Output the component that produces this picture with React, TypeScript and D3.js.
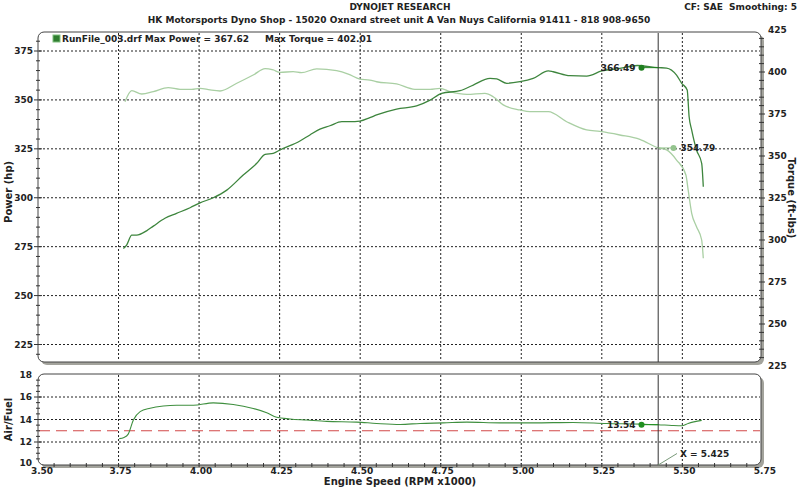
import React, { useRef, useEffect } from 'react';
import * as d3 from 'd3';

// ---- data (rpm x1000) ----
const powerRpm = [3.765, 3.775, 3.791, 3.806, 3.837, 3.858, 3.894, 3.930, 3.972, 4.003, 4.044, 4.086, 4.137, 4.179, 4.205, 4.230, 4.251, 4.313, 4.344, 4.375, 4.406, 4.443, 4.468, 4.499, 4.530, 4.551, 4.613, 4.675, 4.717, 4.753, 4.810, 4.851, 4.903, 4.924, 4.955, 4.996, 5.037, 5.084, 5.099, 5.151, 5.203, 5.250, 5.306, 5.360, 5.425, 5.451, 5.482, 5.498, 5.515, 5.521, 5.529, 5.544, 5.560, 5.565];
const powerHp = [274.1, 275.8, 280.9, 280.9, 283.1, 285.5, 289.5, 292.0, 294.9, 297.4, 300.0, 303.9, 311.6, 317.6, 322.2, 322.7, 324.4, 329.0, 332.1, 335.1, 336.8, 338.9, 338.9, 339.2, 340.9, 342.3, 345.3, 346.9, 349.9, 353.4, 354.7, 357.6, 361.0, 360.7, 358.5, 359.3, 361.0, 364.8, 364.4, 362.4, 362.2, 364.8, 366.1, 367.6, 366.5, 366.3, 362.7, 358.5, 355.1, 341.4, 334.6, 324.4, 317.6, 305.6];

const torqueRpm = [3.770, 3.791, 3.822, 3.858, 3.904, 3.941, 3.977, 4.003, 4.034, 4.065, 4.117, 4.168, 4.205, 4.230, 4.251, 4.292, 4.318, 4.365, 4.427, 4.463, 4.499, 4.530, 4.551, 4.613, 4.670, 4.717, 4.748, 4.779, 4.831, 4.887, 4.913, 4.944, 4.996, 5.027, 5.084, 5.141, 5.203, 5.244, 5.306, 5.368, 5.425, 5.451, 5.482, 5.511, 5.518, 5.529, 5.544, 5.560, 5.565];
const torqueFt = [382.3, 388.9, 386.9, 388.3, 390.7, 389.7, 389.7, 390.3, 389.3, 388.7, 393.3, 398.2, 402.0, 401.2, 399.8, 400.2, 399.6, 401.9, 400.8, 398.8, 395.8, 395.2, 394.2, 392.9, 389.7, 389.7, 390.3, 388.3, 386.7, 387.3, 385.3, 380.4, 377.4, 376.4, 376.4, 370.4, 365.5, 364.6, 362.5, 359.9, 354.8, 353.6, 347.6, 338.7, 329.8, 315.9, 307.9, 300.0, 289.1];

const afrRpm = [3.752, 3.767, 3.780, 3.796, 3.817, 3.848, 3.889, 3.930, 3.982, 4.044, 4.106, 4.168, 4.210, 4.241, 4.282, 4.334, 4.396, 4.489, 4.551, 4.624, 4.686, 4.758, 4.831, 4.934, 5.037, 5.161, 5.265, 5.374, 5.425, 5.467, 5.498, 5.518, 5.560];
const afrValues = [12.3, 12.4, 12.7, 13.95, 14.7, 15.0, 15.2, 15.27, 15.27, 15.48, 15.34, 14.98, 14.6, 14.2, 14.05, 13.95, 13.83, 13.77, 13.65, 13.56, 13.65, 13.7, 13.77, 13.7, 13.7, 13.74, 13.65, 13.59, 13.54, 13.47, 13.44, 13.65, 13.92];

const rpmTicks = [3.5, 3.75, 4.0, 4.25, 4.5, 4.75, 5.0, 5.25, 5.5, 5.75];
const hpTicks = [225, 250, 275, 300, 325, 350, 375];
const torqueTicks = [225, 250, 275, 300, 325, 350, 375, 400, 425];
const afrTicks = [10, 12, 14, 16, 18];
const afrTarget = 13.0;

const cursorRpm = 5.425;
const cursorHp = 366.49;
const cursorTorque = 354.79;
const cursorAfr = 13.54;
const maxPower = 367.62;
const maxTorque = 402.01;

const FONT = '"DejaVu Sans", Verdana, sans-serif';

const DynoChart: React.FC = () => {
  const svgRef = useRef<SVGSVGElement>(null);

  useEffect(() => {
    if (!svgRef.current) return;
    const svg = d3.select(svgRef.current);
    svg.selectAll('*').remove();

    const width = 800;
    const height = 491;
    svg.attr('width', width).attr('height', height);

    const left = 38, right = 761;
    const top1 = 32, bot1 = 362;
    const top2 = 374, bot2 = 465;

    const x = d3.scaleLinear().domain([3.5, 5.75]).range([38, 762.9]);
    const yHp = d3.scaleLinear().domain([225, 375]).range([344.5, 51]);
    const yTq = d3.scaleLinear().domain([225, 425]).range([366, 30]);
    const yAfr = d3.scaleLinear().domain([10, 18]).range([464.5, 374.5]);

    const txt = (sel: any, s: string, px: number, py: number, anchor = 'start', size = 9) =>
      sel.append('text')
        .attr('x', px).attr('y', py)
        .attr('dy', '0.35em')
        .attr('text-anchor', anchor)
        .style('font-family', FONT)
        .style('font-weight', 'bold')
        .style('font-size', `${size}px`)
        .style('white-space', 'pre')
        .style('fill', '#222')
        .text(s);

    // header
    txt(svg, 'DYNOJET RESEARCH', 400, 7, 'middle');
    txt(svg, 'HK Motorsports Dyno Shop - 15020 Oxnard street unit A Van Nuys California 91411 - 818 908-9650', 399, 20, 'middle');
    txt(svg, 'CF: SAE  Smoothing: 5', 797, 7, 'end');

    // panel frames
    const panel = (y0: number, y1: number) => {
      svg.append('rect')
        .attr('x', left + 3).attr('y', y0 + 3)
        .attr('width', right - left).attr('height', y1 - y0)
        .attr('rx', 6)
        .attr('fill', '#a3a39c');
      svg.append('rect')
        .attr('x', left).attr('y', y0)
        .attr('width', right - left).attr('height', y1 - y0)
        .attr('rx', 6)
        .attr('fill', '#fff')
        .attr('stroke', '#444')
        .attr('stroke-width', 1);
    };
    panel(top1, bot1);
    panel(top2, bot2);

    const grid = svg.append('g')
      .attr('stroke', '#222')
      .attr('stroke-width', 1)
      .attr('stroke-dasharray', '2,2');

    const innerRpm = rpmTicks.slice(1, -1);
    grid.selectAll('.vg1').data(innerRpm).enter().append('line')
      .attr('x1', d => x(d)).attr('x2', d => x(d))
      .attr('y1', top1 + 1).attr('y2', bot1 - 1);
    grid.selectAll('.hg1').data(hpTicks).enter().append('line')
      .attr('x1', left + 1).attr('x2', right - 1)
      .attr('y1', d => yHp(d)).attr('y2', d => yHp(d));
    grid.selectAll('.vg2').data(innerRpm).enter().append('line')
      .attr('x1', d => x(d)).attr('x2', d => x(d))
      .attr('y1', top2 + 1).attr('y2', bot2 - 1);
    grid.selectAll('.hg2').data(afrTicks.slice(1, -1)).enter().append('line')
      .attr('x1', left + 1).attr('x2', right - 1)
      .attr('y1', d => yAfr(d)).attr('y2', d => yAfr(d));

    // target A/F line
    svg.append('line')
      .attr('x1', left + 1).attr('x2', right - 1)
      .attr('y1', yAfr(afrTarget)).attr('y2', yAfr(afrTarget))
      .attr('stroke', '#d24a4a')
      .attr('stroke-width', 1.2)
      .attr('stroke-dasharray', '11,6');

    // axes ticks
    const ticks = svg.append('g').attr('stroke', '#333').attr('stroke-width', 1);
    const hpMinor = d3.range(220, 381, 5);
    ticks.selectAll('.hpt').data(hpMinor).enter().append('line')
      .attr('x1', d => (d % 25 === 0 ? 34 : 36)).attr('x2', d => (d % 25 === 0 ? 42 : 40))
      .attr('y1', d => yHp(d)).attr('y2', d => yHp(d));
    const tqMinor = d3.range(230, 425, 5).filter(d => yTq(d) > top1 + 2 && yTq(d) < bot1 - 2);
    ticks.selectAll('.tqt').data(tqMinor).enter().append('line')
      .attr('x1', right - 2).attr('x2', d => (d % 25 === 0 ? right + 4 : right + 3))
      .attr('y1', d => yTq(d)).attr('y2', d => yTq(d));
    const afrMinor = d3.range(10.5, 18, 0.5);
    ticks.selectAll('.aft').data(afrMinor).enter().append('line')
      .attr('x1', d => (d % 2 === 0 ? 34 : 36)).attr('x2', d => (d % 2 === 0 ? 42 : 40))
      .attr('y1', d => yAfr(d)).attr('y2', d => yAfr(d));
    const rpmMinor = d3.range(3.55, 5.75, 0.05);
    ticks.selectAll('.rpt').data(rpmMinor).enter().append('line')
      .attr('x1', d => x(d)).attr('x2', d => x(d))
      .attr('y1', bot2 - 2).attr('y2', bot2 + 2);

    // tick labels
    hpTicks.forEach(t => txt(svg, String(t), 33, yHp(t), 'end'));
    torqueTicks.forEach(t => txt(svg, String(t), 768, yTq(t), 'start'));
    afrTicks.forEach(t => txt(svg, String(t), 32, t === 10 ? yAfr(t) - 2 : yAfr(t), 'end'));
    rpmTicks.forEach(t => txt(svg, t.toFixed(2), t === 3.5 ? x(t) + 4 : x(t) + 2, 471, 'middle'));

    // axis titles
    txt(svg, 'Power (hp)', 0, 0, 'middle', 10)
      .attr('transform', `translate(8,${yHp(303)}) rotate(-90)`);
    txt(svg, 'Torque (ft-lbs)', 0, 0, 'middle', 10)
      .attr('transform', `translate(791,198) rotate(90)`);
    txt(svg, 'Air/Fuel', 0, 0, 'middle', 10)
      .attr('transform', `translate(8,${yAfr(14)}) rotate(-90)`);
    txt(svg, 'Engine Speed (RPM x1000)', 400, 481, 'middle', 10);

    // legend
    svg.append('rect')
      .attr('x', 53).attr('y', 35).attr('width', 7).attr('height', 7)
      .attr('fill', '#2e7d2e').attr('stroke', '#7fbf7f').attr('stroke-width', 1);
    txt(svg, `RunFile_003.drf Max Power = ${maxPower.toFixed(2)}`, 62, 39);
    txt(svg, `Max Torque = ${maxTorque.toFixed(2)}`, 265, 39);

    // curves
    const lineHp = d3.line<number>().x((_, i) => x(powerRpm[i])).y(d => yHp(d)).curve(d3.curveMonotoneX);
    const lineTq = d3.line<number>().x((_, i) => x(torqueRpm[i])).y(d => yTq(d)).curve(d3.curveMonotoneX);
    const lineAfr = d3.line<number>().x((_, i) => x(afrRpm[i])).y(d => yAfr(d)).curve(d3.curveMonotoneX);

    svg.append('path').attr('d', lineTq(torqueFt))
      .attr('fill', 'none').attr('stroke', '#a9cfa3').attr('stroke-width', 1.3);
    svg.append('path').attr('d', lineHp(powerHp))
      .attr('fill', 'none').attr('stroke', '#3d853d').attr('stroke-width', 1.3);
    svg.append('path').attr('d', lineAfr(afrValues))
      .attr('fill', 'none').attr('stroke', '#3f8f3f').attr('stroke-width', 1.1);

    // cursor
    const cx = x(cursorRpm);
    svg.append('line').attr('x1', cx).attr('x2', cx).attr('y1', top1 + 1).attr('y2', bot1)
      .attr('stroke', '#333').attr('stroke-width', 1);
    svg.append('line').attr('x1', cx).attr('x2', cx).attr('y1', top2 + 1).attr('y2', bot2)
      .attr('stroke', '#333').attr('stroke-width', 1);

    const marker = (mx: number, my: number, color: string, label: string, side: 'left' | 'right') => {
      svg.append('line').attr('x1', cx).attr('x2', mx).attr('y1', my).attr('y2', my)
        .attr('stroke', color).attr('stroke-width', 1);
      svg.append('circle').attr('cx', mx).attr('cy', my).attr('r', 3).attr('fill', color);
      if (side === 'left') txt(svg, label, mx - 6, my, 'end');
      else txt(svg, label, mx + 7, my, 'start');
    };
    marker(641.5, yHp(cursorHp), '#1f7f1f', cursorHp.toFixed(2), 'left');
    marker(673.5, yTq(cursorTorque), '#94c48e', cursorTorque.toFixed(2), 'right');
    marker(641.5, yAfr(cursorAfr), '#1f8f1f', cursorAfr.toFixed(2), 'left');

    // rpm readout
    svg.append('line').attr('x1', cx).attr('y1', bot2).attr('x2', 677).attr('y2', 453.5)
      .attr('stroke', '#7a9a7a').attr('stroke-width', 1);
    txt(svg, `X = ${cursorRpm.toFixed(3)}`, 680, 453.5);
  }, []);

  return <svg ref={svgRef} style={{ display: 'block' }}></svg>;
};

export default function App() {
  return (
    <div style={{ position: 'absolute', left: 0, top: 0, width: 800, height: 491, background: '#fff' }}>
      <DynoChart />
    </div>
  );
}
